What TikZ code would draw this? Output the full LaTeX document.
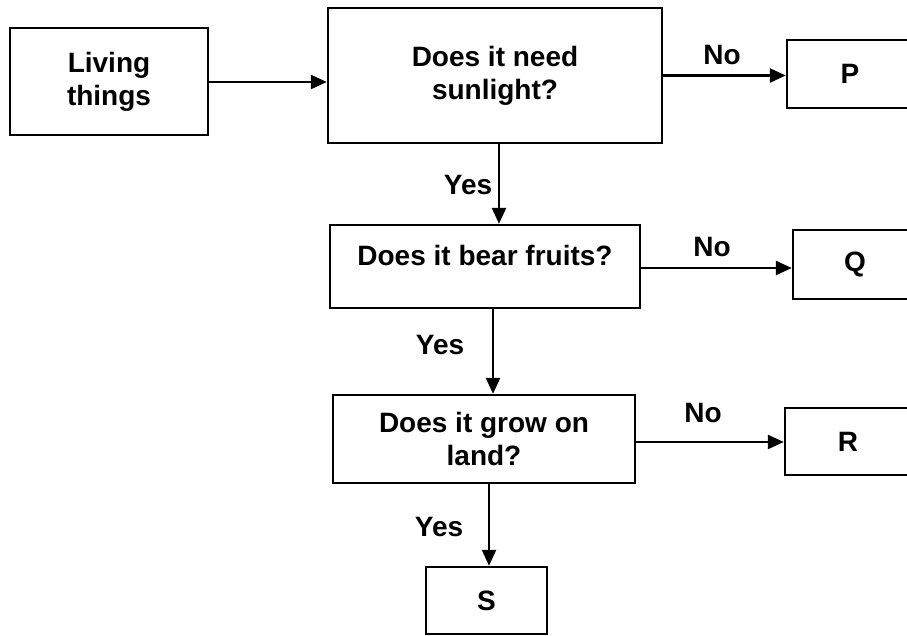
\documentclass[tikz,border=0pt]{standalone}
\usepackage{fontspec}
\setmainfont{Liberation Sans}
\usetikzlibrary{arrows.meta}
\tikzset{
  box/.style={draw=black, line width=2.4pt, rectangle, inner sep=0pt, align=center,
    font=\fontsize{28}{33}\selectfont\bfseries},
  lbl/.style={inner sep=0pt, font=\fontsize{28}{33}\selectfont\bfseries},
  conn/.style={draw=black, line width=2.4pt, -{Triangle[length=16pt,width=14pt]}}
}
\begin{document}
\begin{tikzpicture}[x=1pt, y=-1pt]
\useasboundingbox (0,0) rectangle (907,635);
\clip (0,0) rectangle (907,635);
\fill[white] (0,0) rectangle (907,635);
% nodes
\node[box, minimum width=198pt, minimum height=107pt] (L) at (109,81.5) {Living\\things};
\node[box, minimum width=334pt, minimum height=135pt] (B2) at (495,75.5) {Does it need\\sunlight?};
\node[box, minimum width=126pt, minimum height=68pt] (P) at (850,74) {P};
\node[box, minimum width=310pt, minimum height=83pt] (B3) at (485,266.5) {Does it bear fruits?\\[-10pt]\mbox{}};
\node[box, minimum width=124pt, minimum height=69pt] (Q) at (855,264.5) {Q};
\node[box, minimum width=302pt, minimum height=88pt] (B4) at (484,439) {Does it grow on\\land?};
\node[box, minimum width=126pt, minimum height=67pt] (R) at (848,441.5) {R};
\node[box, minimum width=121pt, minimum height=67pt] (S) at (486.5,600.5) {S};
% connectors
\draw[conn] ([yshift=-0.5pt]L.east) -- ([yshift=-0.5pt]L.east -| B2.west);
\draw[conn] (B2.east) -- (B2.east -| P.west);
\draw[conn] ([xshift=4pt]B2.south) -- ([xshift=4pt]B2.south |- B3.north);
\draw[conn] ([yshift=-1.5pt]B3.east) -- ([yshift=-1.5pt]B3.east -| Q.west);
\draw[conn] ([xshift=8pt]B3.south) -- ([xshift=8pt]B3.south |- B4.north);
\draw[conn] ([yshift=-3pt]B4.east) -- ([yshift=-3pt]B4.east -| R.west);
\draw[conn] ([xshift=5pt]B4.south) -- ([xshift=5pt]B4.south |- S.north);
% labels
\node[lbl] (n1) at (722,55) {No};
\node[lbl] (n2) at (712,247) {No};
\node[lbl] (n3) at (703,413) {No};
\node[lbl] (y1) at (468,185) {Yes};
\node[lbl] (y2) at (440,345) {Yes};
\node[lbl] (y3) at (439,527) {Yes};
\end{tikzpicture}
\end{document}
